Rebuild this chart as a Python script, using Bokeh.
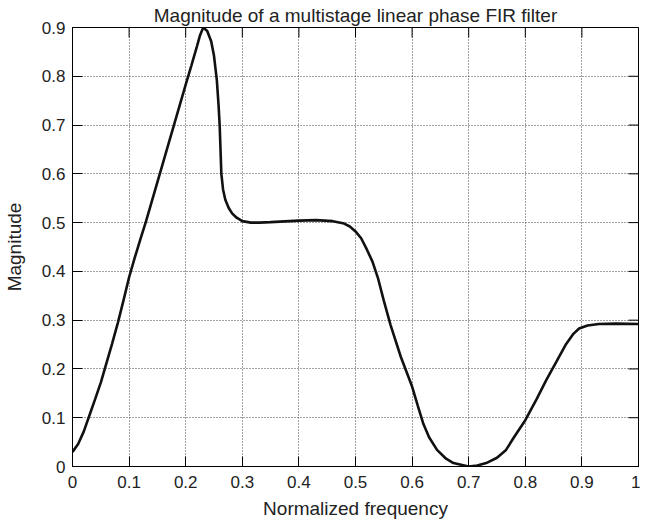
import math
from bokeh.plotting import figure
from bokeh.models import FixedTicker, Range1d
from bokeh.embed import file_html
from bokeh.resources import INLINE

# ---- data ----
freq = [0.000, 0.010, 0.020, 0.030, 0.040, 0.050, 0.060, 0.070, 0.080, 0.090,
        0.100, 0.110, 0.120, 0.130, 0.140, 0.150, 0.160, 0.170, 0.180, 0.190,
        0.200, 0.210, 0.220, 0.225, 0.231, 0.238, 0.245, 0.250, 0.255, 0.258,
        0.260, 0.263, 0.266, 0.270, 0.276, 0.282, 0.290, 0.300, 0.315, 0.330,
        0.350, 0.400, 0.430, 0.460, 0.480, 0.490, 0.500, 0.510, 0.520, 0.530,
        0.540, 0.550, 0.562, 0.580, 0.600, 0.610, 0.620, 0.630, 0.644, 0.660,
        0.673, 0.700, 0.715, 0.731, 0.750, 0.766, 0.780, 0.800, 0.820, 0.837,
        0.855, 0.871, 0.885, 0.895, 0.910, 0.930, 0.960, 1.000]
mag = [0.030, 0.046, 0.072, 0.105, 0.138, 0.172, 0.212, 0.252, 0.294, 0.340,
       0.388, 0.428, 0.466, 0.503, 0.543, 0.583, 0.623, 0.663, 0.703, 0.743,
       0.783, 0.822, 0.862, 0.883, 0.900, 0.893, 0.872, 0.842, 0.792, 0.742,
       0.700, 0.600, 0.568, 0.547, 0.530, 0.519, 0.510, 0.503, 0.500, 0.500,
       0.501, 0.504, 0.505, 0.503, 0.498, 0.492, 0.482, 0.468, 0.445, 0.420,
       0.385, 0.340, 0.290, 0.225, 0.164, 0.125, 0.087, 0.060, 0.034, 0.016,
       0.007, 0.000, 0.002, 0.007, 0.018, 0.034, 0.060, 0.095, 0.138, 0.177,
       0.215, 0.249, 0.272, 0.283, 0.289, 0.292, 0.293, 0.292]

x_ticks = [0.0, 0.1, 0.2, 0.3, 0.4, 0.5, 0.6, 0.7, 0.8, 0.9, 1.0]
x_tick_labels = ["0", "0.1", "0.2", "0.3", "0.4", "0.5", "0.6", "0.7", "0.8", "0.9", "1"]
y_ticks = [0.0, 0.1, 0.2, 0.3, 0.4, 0.5, 0.6, 0.7, 0.8, 0.9]
y_tick_labels = ["0", "0.1", "0.2", "0.3", "0.4", "0.5", "0.6", "0.7", "0.8", "0.9"]
x_min, x_max = 0.0, 1.0
y_min, y_max = 0.0, 0.9

title_text = "Magnitude of a multistage linear phase FIR filter"
x_label = "Normalized frequency"
y_label = "Magnitude"

FONT = "Liberation Sans"
TXT = "#222222"
TICK_LEN = 10

p = figure(width=640, height=523, x_range=Range1d(x_min, x_max), y_range=Range1d(y_min, y_max),
           output_backend="svg", toolbar_location=None,
           min_border_left=67, min_border_right=2, min_border_top=26, min_border_bottom=57)
p.background_fill_color = "white"
p.border_fill_color = "white"
p.outline_line_color = "black"
p.outline_line_width = 1

p.title.text = title_text
p.title.align = "center"
p.title.text_font = FONT
p.title.text_font_size = "19px"
p.title.text_font_style = "normal"
p.title.text_color = TXT
p.title.standoff = 4
p.title.offset = 0

xt = FixedTicker(ticks=x_ticks)
yt = FixedTicker(ticks=y_ticks)

for ax, ticker, labels in ((p.xaxis[0], xt, x_tick_labels), (p.yaxis[0], yt, y_tick_labels)):
    ax.ticker = ticker
    ax.major_tick_in = TICK_LEN
    ax.major_tick_out = 0
    ax.minor_tick_in = 0
    ax.minor_tick_out = 0
    ax.axis_line_color = "black"
    ax.major_tick_line_color = "black"
    ax.major_label_overrides = {t: l for t, l in zip(ticker.ticks, labels)}
    ax.major_label_text_font = FONT
    ax.major_label_text_font_size = "17px"
    ax.major_label_text_color = TXT
    ax.axis_label_text_font = FONT
    ax.axis_label_text_font_size = "19px"
    ax.axis_label_text_font_style = "normal"
    ax.axis_label_text_color = TXT

xa = p.xaxis[0]
ya = p.yaxis[0]
xa.major_label_standoff = 9
ya.major_label_standoff = 7
xa.axis_label = x_label
xa.axis_label_standoff = 7
ya.axis_label = y_label
ya.axis_label_standoff = 14

# tick marks on the top and right edges (inward), as in the reference box axes
p.ray(x=x_ticks, y=[y_max] * len(x_ticks), length=TICK_LEN, length_units="screen",
      angle=-math.pi / 2, line_color="black", line_width=1)
p.ray(x=[x_max] * len(y_ticks), y=y_ticks, length=TICK_LEN, length_units="screen",
      angle=math.pi, line_color="black", line_width=1)

for g, t in ((p.xgrid, xt), (p.ygrid, yt)):
    g.ticker = t
    g.grid_line_color = "#333333"
    g.grid_line_dash = "1 2"
    g.grid_line_width = 1
    g.grid_line_alpha = 0.9

p.line(freq, mag, line_color="#111111", line_width=2.6)

open("out.html", "w").write(file_html(p, INLINE))
